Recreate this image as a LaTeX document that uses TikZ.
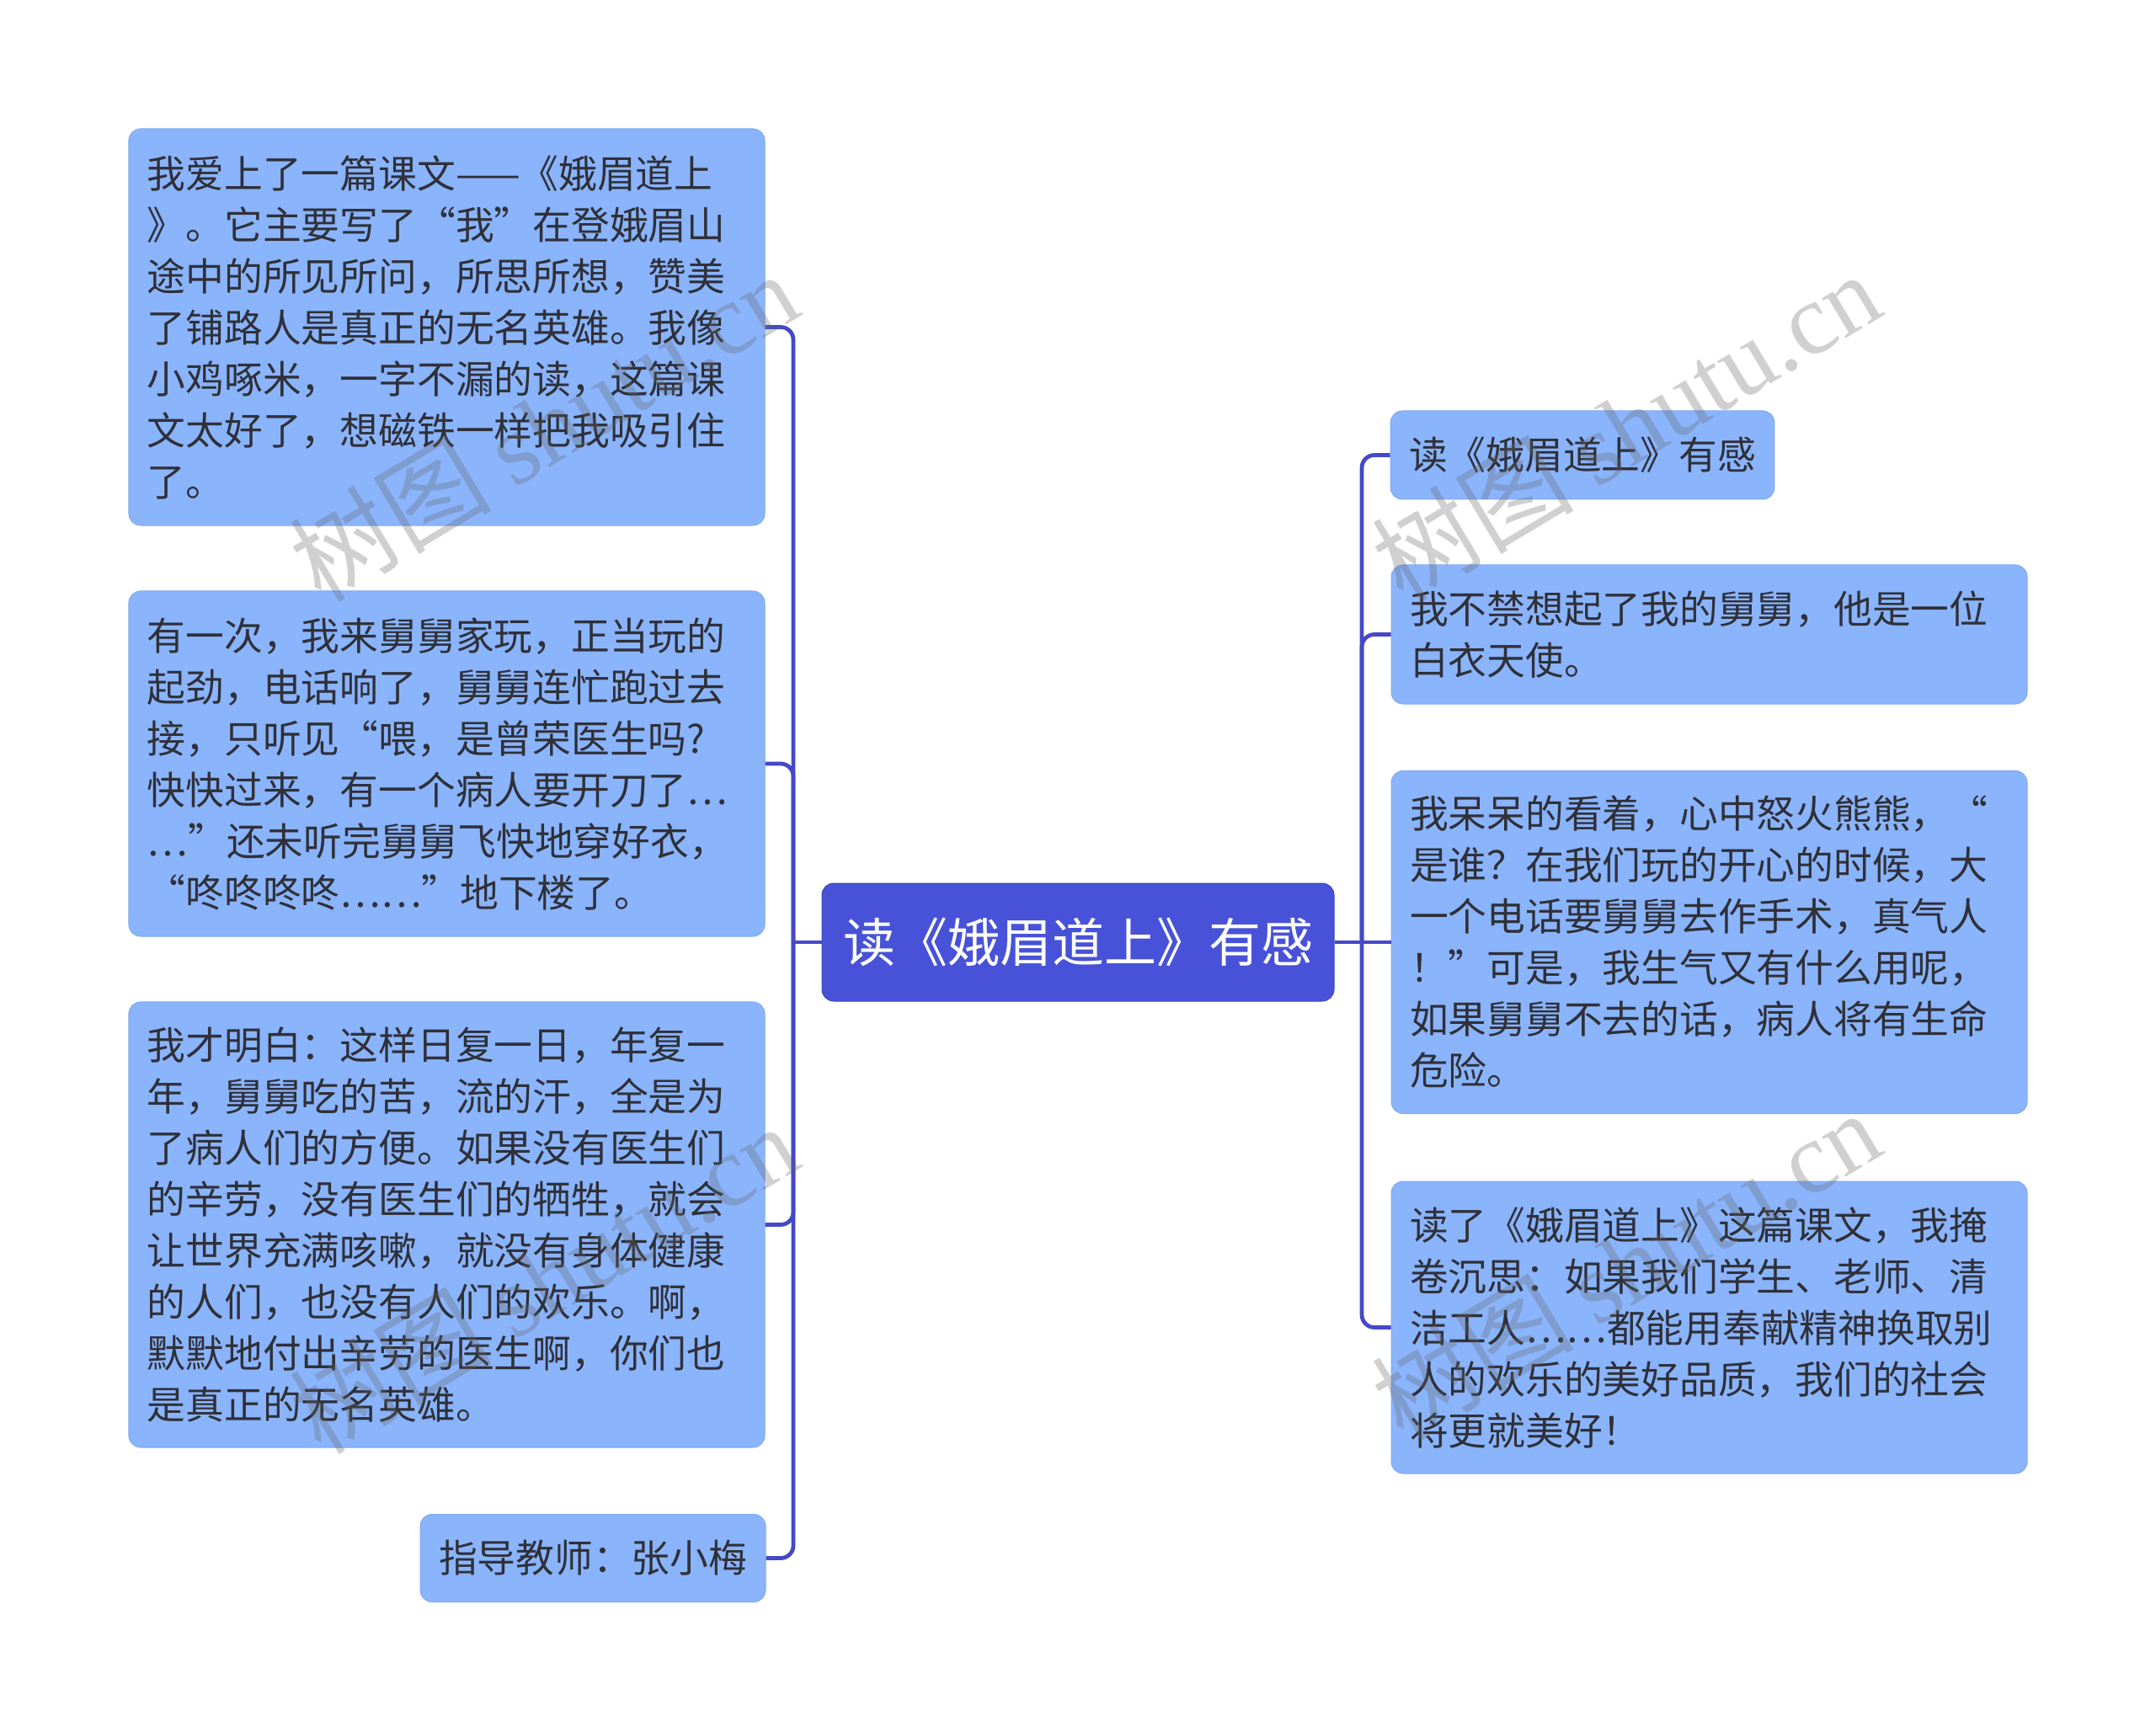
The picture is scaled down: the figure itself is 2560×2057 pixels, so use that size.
\documentclass[tikz,border=0pt]{standalone}
\usepackage{fontspec}
\setmainfont{Noto Sans CJK SC}
\newfontfamily\wmcjk{Noto Sans CJK SC}
\newfontfamily\wmserif{Liberation Serif}
\definecolor{leafblue}{HTML}{8AB4FC}
\definecolor{leafedge}{HTML}{7FA9F2}
\definecolor{rootblue}{HTML}{4852D8}
\definecolor{lineblue}{HTML}{4548C8}
\definecolor{textgray}{HTML}{2F3038}
\begin{document}
\begin{tikzpicture}[x=0.4pt,y=-0.4pt,
  leaf/.style={rounded corners=5.6pt, fill=leafblue, draw=leafedge, line width=0.4pt,
    text=textgray, font=\fontsize{18.3}{24.4}\selectfont, inner xsep=8.8pt, inner ysep=0pt, align=left},
  wide/.style={leaf, text width=284.4pt},
  root/.style={rounded corners=5.6pt, fill=rootblue, draw=rootblue!85!black, line width=0.4pt, text=white,
    font=\fontsize{24.8}{30}\selectfont, minimum width=243.2pt, minimum height=56pt, inner sep=0pt},
  conn/.style={draw=lineblue, line width=1.9pt, rounded corners=6pt},
  wm/.style={text=black!60, opacity=0.3, font=\fontsize{48}{48}\selectfont, rotate=31, inner sep=0pt}]
\useasboundingbox (0,0) rectangle (2560,2057);
\fill[white] (0,0) rectangle (2560,2057);

\node[root] (C) at (1280,1119) {读《娥眉道上》有感};

\node[wide, minimum height=188.4pt] (L1) at (530.5,388.5) {我爱上了一篇课文——《娥眉道上\\》。它主要写了“我”在登娥眉山\\途中的所见所问，所思所想，赞美\\了铺路人是真正的无名英雄。我像\\小鸡啄米，一字不漏的读，这篇课\\文太好了，想磁铁一样把我吸引住\\了。};
\node[wide, minimum height=164pt] (L2) at (530.5,907) {有一次，我来舅舅家玩，正当玩的\\起劲，电话响了，舅舅连忙跑过去\\接，只听见“喂，是曾荣医生吗?\\快快过来，有一个病人要开刀了…\\…”还未听完舅舅飞快地穿好衣，\\“咚咚咚咚……”地下楼了。};
\node[wide, minimum height=211.6pt] (L3) at (530.5,1454.5) {我才明白：这样日复一日，年复一\\年，舅舅吃的苦，流的汗，全是为\\了病人们的方便。如果没有医生们\\的辛劳，没有医生们的牺牲，就会\\让世界充满咳嗽，就没有身体健康\\的人们，也没有人们的欢乐。啊，\\默默地付出辛劳的医生啊，你们也\\是真正的无名英雄。};
\node[leaf, minimum width=163.2pt, minimum height=41.6pt] (L4) at (704,1850.5) {指导教师：张小梅};

\node[leaf, minimum width=181.6pt, minimum height=42pt] (R1) at (1879,540.5) {读《娥眉道上》有感};
\node[wide, minimum height=66pt] (R2) at (2029.5,753.5) {我不禁想起了我的舅舅，他是一位\\白衣天使。};
\node[wide, minimum height=162.8pt] (R3) at (2029.5,1119) {我呆呆的看着，心中怒火熊熊，“\\是谁？在我们玩的开心的时候，大\\一个电话要舅舅去作手术，真气人\\！”可是，我生气又有什么用呢，\\如果舅舅不去的话，病人将有生命\\危险。};
\node[wide, minimum height=138.8pt] (R4) at (2029.5,1576.5) {读了《娥眉道上》这篇课文，我掩\\卷沉思：如果我们学生、老师、清\\洁工人……都能用奉献精神换取别\\人的欢乐的美好品质，我们的社会\\将更就美好！};

\coordinate (TL) at (942,1119);
\coordinate (TR) at (1617,1119);
\draw[conn] (C.west) -- (TL);
\draw[conn] (TL) |- (L1.east);
\draw[conn] (TL) |- (L2.east);
\draw[conn] (TL) |- (L3.east);
\draw[conn] (TL) |- (L4.east);
\draw[conn] (C.east) -- (TR);
\draw[conn] (TR) |- (R1.west);
\draw[conn] (TR) |- (R2.west);
\draw[conn] (TR) -- (R3.west);
\draw[conn] (TR) |- (R4.west);

\node[wm] (w1) at (645,506) {\wmcjk 树图 \wmserif shutu.cn};
\node[wm] (w2) at (1930,506) {\wmcjk 树图 \wmserif shutu.cn};
\node[wm] (w3) at (645,1518) {\wmcjk 树图 \wmserif shutu.cn};
\node[wm] (w4) at (1930,1502) {\wmcjk 树图 \wmserif shutu.cn};
\end{tikzpicture}
\end{document}
